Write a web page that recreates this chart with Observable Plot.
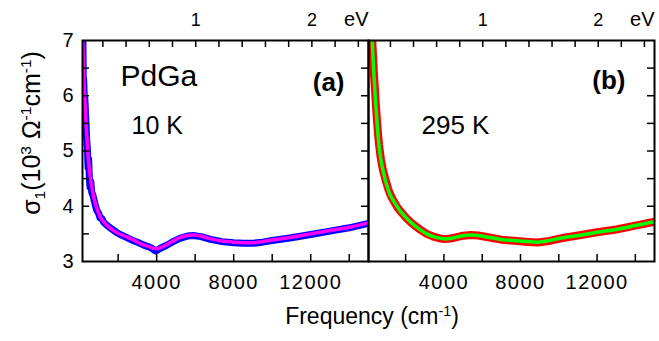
<!DOCTYPE html>
<html>
<head>
<meta charset="utf-8">
<script src="https://cdn.jsdelivr.net/npm/d3@7"></script>
<script src="https://cdn.jsdelivr.net/npm/@observablehq/plot@0.6"></script>
<style>
  html, body { margin: 0; padding: 0; background: #fff; }
  #wrap { position: relative; width: 659px; height: 341px; overflow: hidden; font-family: "Liberation Sans", Arial, sans-serif; color: #000; }
  #wrap svg { position: absolute; top: 0; overflow: visible; }
  .lbl { position: absolute; white-space: nowrap; line-height: 1; }
  .lbl sup { font-size: 0.62em; position: relative; top: -0.55em; vertical-align: baseline; }
  .lbl sub { font-size: 0.62em; position: relative; top: 0.3em; vertical-align: baseline; }
  #ylab { left: 31px; top: 133px; font-size: 25px; transform: translate(-50%, -50%) rotate(-90deg); }
  #xlab { left: 372px; top: 305px; font-size: 23px; transform: translateX(-50%); }
  g[aria-label="x-axis tick label"] text { letter-spacing: 1.5px; }
</style>
</head>
<body>
<div id="wrap">
  <div id="ylab" class="lbl">σ<sub>1</sub>(10<sup>3</sup> Ω<sup>-1</sup>cm<sup>-1</sup>)</div>
  <div id="xlab" class="lbl">Frequency (cm<sup>-1</sup>)</div>
</div>
<script>
// ---------- data ----------
// Panel (a): PdGa 10 K, measured (blue) and fit (magenta)
const aFreqMeas = [150, 160, 175, 190, 210, 240, 270, 300, 330, 370, 410, 440, 470, 500, 540, 580, 630, 690, 760, 830, 900, 980, 1060, 1150, 1250, 1400, 1550, 1700, 1900, 2100, 2400, 2700, 3000, 3300, 3550, 3750, 3850, 3950, 4050, 4200, 4500, 4800, 5200, 5600, 5900, 6300, 6800, 7400, 8000, 8500, 9000, 9500, 10000, 11000, 12000, 13000, 14000, 15000];
const aSigMeas  = [5.5, 7.2, 6.9, 6.2, 6.3, 6.0, 5.95, 5.75, 5.5, 5.2, 5.0, 4.7, 4.85, 4.55, 4.35, 4.45, 4.25, 4.2, 4.1, 4.0, 3.92, 3.88, 3.79, 3.78, 3.71, 3.66, 3.62, 3.58, 3.53, 3.49, 3.44, 3.39, 3.35, 3.30, 3.27, 3.24, 3.21, 3.19, 3.21, 3.24, 3.29, 3.35, 3.42, 3.46, 3.47, 3.45, 3.40, 3.36, 3.34, 3.33, 3.33, 3.35, 3.38, 3.43, 3.49, 3.55, 3.61, 3.69];
const aFreqFit = [166, 230, 306, 390, 477, 600, 737, 900, 1085, 1300, 1500, 1900, 2400, 2800, 3250, 3600, 3850, 4000, 4200, 4500, 4800, 5200, 5600, 5900, 6300, 6800, 7400, 8000, 8500, 9000, 9500, 10000, 11000, 12000, 13000, 14000, 15000];
const aSigFit  = [7.0, 6.25, 5.68, 5.18, 4.77, 4.42, 4.16, 3.96, 3.80, 3.70, 3.63, 3.53, 3.45, 3.39, 3.31, 3.27, 3.24, 3.23, 3.25, 3.30, 3.36, 3.43, 3.47, 3.48, 3.46, 3.41, 3.37, 3.35, 3.34, 3.34, 3.36, 3.39, 3.44, 3.50, 3.56, 3.62, 3.70];

// Panel (b): 295 K, measured (red) and fit (green)
const bFreqMeas = [240, 300, 340, 400, 430, 480, 520, 560, 610, 680, 720, 800, 850, 930, 1000, 1100, 1200, 1300, 1400, 1550, 1700, 1850, 2000, 2300, 2700, 3100, 3500, 3800, 4000, 4200, 4400, 4900, 5400, 5800, 6300, 7000, 7800, 8400, 8900, 9400, 10200, 11000, 12000, 13000, 14000, 15000];
const bSigMeas  = [7.1, 6.7, 6.42, 6.1, 5.92, 5.66, 5.47, 5.3, 5.12, 4.92, 4.83, 4.68, 4.61, 4.5, 4.42, 4.3, 4.21, 4.14, 4.08, 3.99, 3.92, 3.86, 3.80, 3.70, 3.59, 3.50, 3.445, 3.42, 3.405, 3.41, 3.42, 3.46, 3.48, 3.47, 3.44, 3.395, 3.37, 3.355, 3.345, 3.365, 3.425, 3.47, 3.53, 3.58, 3.65, 3.72];
const bFreqFit = [250, 340, 430, 520, 610, 720, 850, 1000, 1200, 1400, 1700, 2000, 2300, 2700, 3100, 3500, 4000, 4400, 4900, 5400, 5800, 6300, 7000, 7800, 8400, 8900, 9400, 10200, 11000, 12000, 13000, 14000, 15000];
const bSigFit  = [7.05, 6.4, 5.9, 5.45, 5.1, 4.82, 4.6, 4.4, 4.2, 4.08, 3.92, 3.8, 3.7, 3.59, 3.5, 3.445, 3.41, 3.42, 3.46, 3.48, 3.47, 3.44, 3.40, 3.375, 3.36, 3.35, 3.37, 3.43, 3.47, 3.53, 3.58, 3.65, 3.72];

// ticks and labels
const xTickLabels = [4000, 8000, 12000];
const xTicks = [2000, 4000, 6000, 8000, 10000, 12000, 14000];
const yTickLabels = [3, 4, 5, 6, 7];
const yTicks = [3.5, 4, 4.5, 5, 5.5, 6, 6.5];
const eVTicks = [0.2, 0.4, 0.6, 0.8, 1.0, 1.2, 1.4, 1.6, 1.8, 2.0, 2.2, 2.4];
const eVTickLabels = [1, 2];
const cmPerEV = 6030; // position of the eV scale as drawn in the figure

// ---------- layout ----------
const FT = 40, FB = 261;      // frame top / bottom
const frameH = FB - FT;
const frameW = 286;
const TL = 7;                 // inward tick length
const font = "Liberation Sans, Arial, sans-serif";

function panel({width, marginLeft, marginRight, xDomain, meas, fit, measColor, fitColor, measW, fitW, leftLabels, leftTicks, texts}) {
  const marks = [
    Plot.line(meas[0], {x: meas[0], y: meas[1], stroke: measColor, strokeWidth: measW, curve: "linear", clip: true, strokeLinejoin: "round"}),
    Plot.line(fit[0], {x: fit[0], y: fit[1], stroke: fitColor, strokeWidth: fitW, curve: "catmull-rom", clip: true}),
    // inward ticks
    Plot.tickX(xTicks, {x: d => d, insetTop: frameH - TL, strokeWidth: 1.5}),
    Plot.tickX(eVTicks, {x: d => d * cmPerEV, insetBottom: frameH - TL, strokeWidth: 1.5}),
    Plot.tickY(yTicks, {y: d => d, insetLeft: frameW - TL, strokeWidth: 1.5}),
    Plot.axisX(xTickLabels, {anchor: "bottom", tickSize: 0, tickPadding: 13, fontSize: 20, label: null, tickFormat: d => String(d)}),
    Plot.text(eVTickLabels, {x: d => d * cmPerEV, text: d => String(d), frameAnchor: "top", dy: -15, lineAnchor: "bottom", fontSize: 18}),
    Plot.text(["eV"], {text: d => d, frameAnchor: "top-right", dy: -15, lineAnchor: "bottom", textAnchor: "end", fontSize: 20}),
    ...texts.map(t => Plot.text([t.s], {text: d => d, frameAnchor: "top-left", dx: t.dx, dy: t.dy, lineAnchor: "bottom", textAnchor: t.anchor || "start", fontSize: t.size, fontWeight: t.bold ? "bold" : "normal"})),
    Plot.frame({stroke: "black", strokeWidth: 2})
  ];
  if (leftTicks) marks.splice(5, 0, Plot.tickY(yTicks, {y: d => d, insetRight: frameW - TL, strokeWidth: 1.5}));
  if (leftLabels) marks.push(Plot.axisY(yTickLabels, {anchor: "left", tickSize: 0, tickPadding: 9, fontSize: 20, label: null, tickFormat: d => String(d)}));
  return Plot.plot({
    width, height: 341,
    marginLeft, marginRight, marginTop: FT, marginBottom: 341 - FB,
    x: {domain: xDomain, axis: null},
    y: {domain: [3, 7], axis: null},
    style: {fontFamily: font, background: "transparent", color: "black", overflow: "visible"},
    marks
  });
}

const left = panel({
  width: 368, marginLeft: 82, marginRight: 0,
  xDomain: [150, 15000],
  meas: [aFreqMeas, aSigMeas], fit: [aFreqFit, aSigFit],
  measColor: "#0000ff", fitColor: "#ff00ff", measW: 7, fitW: 3.5,
  leftLabels: true, leftTicks: true,
  texts: [
    {s: "PdGa", dx: 38, dy: 45, size: 30},
    {s: "10 K", dx: 49, dy: 93, size: 25},
    {s: "(a)", dx: 262, dy: 50, size: 26, bold: true, anchor: "end"}
  ]
});
left.style.left = "0px";

const right = panel({
  width: 293, marginLeft: 2, marginRight: 5,
  xDomain: [60, 15000],
  meas: [bFreqMeas, bSigMeas], fit: [bFreqFit, bSigFit],
  measColor: "#ff0000", fitColor: "#00ff00", measW: 8, fitW: 3.5,
  leftLabels: false, leftTicks: false,
  texts: [
    {s: "295 K", dx: 53, dy: 93, size: 26},
    {s: "(b)", dx: 257, dy: 48, size: 26, bold: true, anchor: "end"}
  ]
});
right.style.left = "366px";

const wrap = document.getElementById("wrap");
wrap.appendChild(right);
wrap.appendChild(left);
</script>
</body>
</html>
